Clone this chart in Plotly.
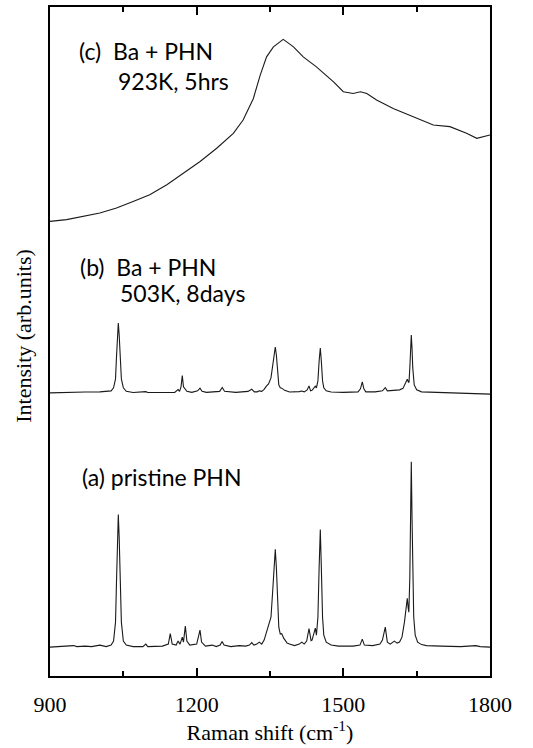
import plotly.graph_objects as go

# ---- data (Raman shift in cm-1, intensity in arb. units above each baseline) ----
wn_a = [900, 930, 948, 955, 972, 985, 1002, 1015, 1025, 1030, 1034, 1036, 1038, 1039.7, 1041.5, 1043.5, 1046, 1050,
        1056, 1070, 1090, 1096, 1100, 1130, 1142, 1146, 1150, 1158, 1162, 1166, 1170.6, 1173, 1176.8, 1180, 1186,
        1200, 1204, 1206.8, 1210, 1218, 1232, 1240, 1248, 1252, 1256, 1270, 1287, 1300, 1308, 1312.6, 1317, 1323,
        1328, 1333, 1338, 1343, 1347, 1352, 1356, 1358.5, 1360.8, 1363, 1365.5, 1368, 1371, 1374, 1378, 1385, 1390,
        1400, 1410, 1415, 1420, 1425, 1429.8, 1432, 1434, 1436, 1439, 1442.7, 1445, 1448, 1450.5, 1452.9, 1455,
        1457.5, 1460, 1465, 1475, 1490, 1520, 1534, 1538.8, 1543, 1560, 1575, 1580, 1585.8, 1590, 1596, 1604.3,
        1610, 1615, 1620, 1625, 1628, 1630.8, 1632.5, 1634, 1636, 1637.5, 1639, 1640.5, 1642, 1644, 1647, 1652,
        1660, 1670, 1700, 1740, 1771, 1780, 1800]
int_a = [0, 0.5, 1.5, 0.5, 1, 0.5, 2, 0.5, 2, 6, 25, 65, 110, 133, 110, 65, 25, 6,
         2, 0.5, 0.5, 3, 0.5, 1, 3, 13.5, 3, 2, 6, 3, 10, 5, 21, 6, 2,
         3, 10, 17, 5, 1, 2, 0.5, 2, 5.5, 2, 0.5, 1.5, 1, 2, 4.5, 2, 3,
         5, 3, 7, 16, 21, 30, 60, 85, 98, 80, 45, 20, 13, 13.5, 9, 4, 3,
         1.5, 3, 5, 3, 6, 18.5, 10, 6.5, 7, 14, 19, 12, 30, 80, 118, 80,
         30, 12, 5, 2, 1, 1, 2, 8, 2, 1.5, 3, 7, 20, 5, 3, 6,
         4, 5, 10, 25, 40, 49, 40, 35, 70, 130, 186, 130, 70, 30, 12, 5,
         2.5, 1.5, 1, 0.5, 1.5, 0.5, 0]

wn_b = [900, 948, 972, 1002, 1025, 1030, 1034, 1036, 1038, 1039.7, 1041.5, 1043.5, 1046, 1050, 1056, 1070, 1096,
        1100, 1140, 1147, 1155, 1162, 1165, 1168, 1170.6, 1173, 1176.8, 1180, 1190, 1202, 1206.8, 1211, 1220, 1247,
        1252.4, 1257, 1280, 1305, 1312.6, 1318, 1324, 1328, 1333, 1338, 1343, 1347, 1352, 1356, 1358.5, 1360.8,
        1363, 1365.5, 1368, 1371, 1374, 1380, 1390, 1410, 1415, 1420, 1426, 1429.8, 1433, 1436, 1440, 1442.7, 1445,
        1448, 1450.5, 1452.9, 1455, 1457.5, 1460, 1465, 1475, 1500, 1530, 1535, 1538.8, 1542, 1546, 1565, 1580,
        1585.8, 1590, 1600, 1615, 1622, 1627, 1630.8, 1633, 1634.3, 1636, 1637.5, 1639, 1640.5, 1642, 1645, 1650,
        1660, 1700, 1750, 1800]
int_b = [0, 1, 0.8, 1, 2, 5, 14, 36, 58, 70, 58, 36, 14, 5, 1.5, 0.3, 1.2,
         0.3, 0.5, 1.2, 0.5, 3.3, 1.5, 6, 17.4, 6, 3.5, 1.5, 0.5, 2, 4.7, 1.5, 0.5, 1.5,
         5.3, 1.5, 0.5, 1.5, 3.7, 1, 1, 2, 1.5, 3.5, 7, 9, 15, 30, 40, 46,
         38, 20, 8, 5, 4.7, 2.5, 0.8, 1.2, 1.8, 1, 3, 7, 2, 2.5, 5, 6.7, 5,
         12, 32, 45, 32, 12, 5, 2, 0.8, 0.5, 1, 4, 11, 4, 1, 1, 2,
         5.3, 2, 2.5, 3, 4.5, 10, 13.7, 11, 10.3, 25, 45, 58, 45, 25, 8, 3,
         1, 0.5, 0, -1.3]

wn_c = [900, 934, 1002, 1036, 1070, 1104, 1139, 1173, 1207, 1241, 1275, 1295, 1316, 1330, 1343, 1357, 1368, 1377,
        1387, 1398, 1418, 1445, 1480, 1500, 1520, 1535, 1548, 1568, 1602, 1650, 1684, 1718, 1752, 1773, 1800]
int_c = [16, 17.7, 24.3, 29.3, 36, 42.7, 52.7, 64.3, 76, 89.3, 104.3, 117.7, 139.3, 162.7, 181, 191, 195, 198.5,
         195, 191, 181, 171, 156, 146, 144.3, 146, 144.3, 137.7, 129.3, 119.3, 112.7, 111, 104.3, 99.3, 102.7]

offset_a = 29
offset_b = 284
offset_c = 440

x_ticks = [900, 1200, 1500, 1800]
labels = [("(c)\u00a0 Ba + PHN", "923K, 5hrs"), ("(b)\u00a0 Ba + PHN", "503K, 8days"), ("(a) pristine PHN", None)]

fig = go.Figure()
for wn, inten, off in [(wn_a, int_a, offset_a), (wn_b, int_b, offset_b), (wn_c, int_c, offset_c)]:
    fig.add_trace(go.Scatter(x=wn, y=[v + off for v in inten], mode="lines",
                             line=dict(color="#1a1a1a", width=1.1), showlegend=False))

serif = "Liberation Serif, Times New Roman, serif"
sans = "Lato, Open Sans, sans-serif"

fig.update_layout(
    width=533, height=748,
    margin=dict(l=50, r=43, t=5, b=72),
    paper_bgcolor="white", plot_bgcolor="white",
    xaxis=dict(range=[900, 1800], tickvals=x_ticks, ticks="inside", ticklen=8, tickwidth=1.5,
               tickcolor="black", mirror="ticks", showline=True, linecolor="black", linewidth=1.5,
               showgrid=False, zeroline=False, ticklabelstandoff=8,
               tickfont=dict(family=serif, size=22, color="black"),
               minor=dict(tickvals=[1050, 1350, 1650], ticks="inside", ticklen=5, tickwidth=1.5, tickcolor="black"),
               title=dict(text="Raman shift (cm<sup>-1</sup>)", font=dict(family=serif, size=22, color="black"),
                          standoff=2)),
    yaxis=dict(range=[0, 671], showticklabels=False, ticks="", showline=True, mirror=True,
               linecolor="black", linewidth=1.5, showgrid=False, zeroline=False),
)

ann = [
    (0.062, 0.934, labels[0][0]),
    (0.150, 0.889, labels[0][1]),
    (0.064, 0.611, labels[1][0]),
    (0.155, 0.572, labels[1][1]),
    (0.068, 0.298, labels[2][0]),
]
for x, y, t in ann:
    fig.add_annotation(x=x, y=y, xref="paper", yref="paper", text=t, showarrow=False,
                       xanchor="left", yanchor="middle", font=dict(family=sans, size=23, color="black"))

fig.add_annotation(x=-0.06, y=0.508, xref="paper", yref="paper", text="Intensity (arb.units)",
                   textangle=-90, showarrow=False, xanchor="center", yanchor="middle",
                   font=dict(family=serif, size=22, color="black"))

fig.write_html("out.html", config={"displayModeBar": False},
               post_script="document.body.style.margin='0px';")
